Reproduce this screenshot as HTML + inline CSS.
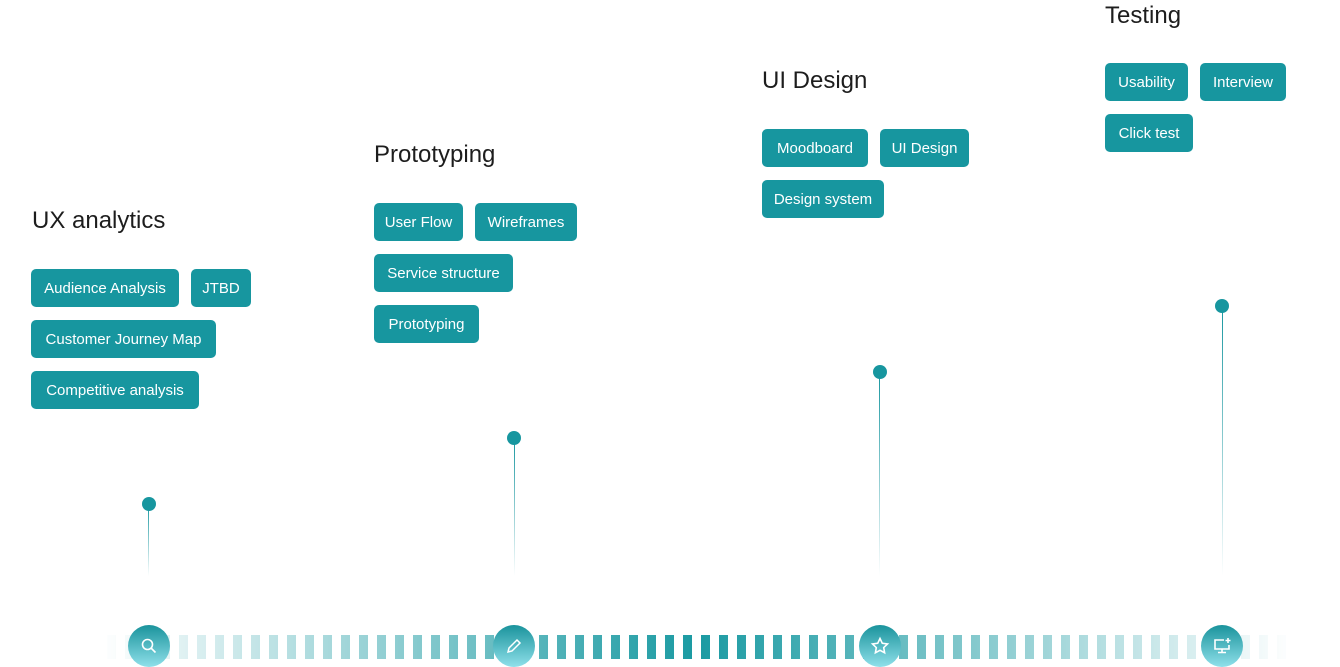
<!DOCTYPE html>
<html><head><meta charset="utf-8"><style>
body{margin:0;width:1340px;height:667px;background:#fff;position:relative;overflow:hidden;font-family:"Liberation Sans",sans-serif}
.t{position:absolute;font-size:24px;color:#1d1d1d;line-height:30px;white-space:nowrap}
.c{position:absolute;height:38px;line-height:40px;background:#17969f;color:#fff;border-radius:5px;font-size:15px;text-align:center;white-space:nowrap}
.d{position:absolute;width:14px;height:14px;border-radius:50%;background:#17969f}
.l{position:absolute;width:1px;background:linear-gradient(#17969f,rgba(23,150,159,0))}
.bars{position:absolute;left:107px;top:635px;width:1180px;height:24px;background:repeating-linear-gradient(90deg,#1a9aa2 0 9px,transparent 9px 18px);-webkit-mask-image:linear-gradient(90deg,rgba(0,0,0,0.01),rgba(0,0,0,1) 50%,rgba(0,0,0,0.01));mask-image:linear-gradient(90deg,rgba(0,0,0,0.01),rgba(0,0,0,1) 50%,rgba(0,0,0,0.01))}
.b{position:absolute;width:42px;height:42px;border-radius:50%;background:linear-gradient(#1a939c,#8fe0ea);top:625px;display:flex;align-items:center;justify-content:center}
</style></head><body>
<div class="t" style="left:32px;top:206px">UX analytics</div>
<div class="c" style="left:31px;top:269px;width:148px">Audience Analysis</div>
<div class="c" style="left:191px;top:269px;width:60px">JTBD</div>
<div class="c" style="left:31px;top:320px;width:185px">Customer Journey Map</div>
<div class="c" style="left:31px;top:371px;width:168px">Competitive analysis</div>

<div class="t" style="left:374px;top:140px">Prototyping</div>
<div class="c" style="left:374px;top:203px;width:89px">User Flow</div>
<div class="c" style="left:475px;top:203px;width:102px">Wireframes</div>
<div class="c" style="left:374px;top:254px;width:139px">Service structure</div>
<div class="c" style="left:374px;top:305px;width:105px">Prototyping</div>

<div class="t" style="left:762px;top:66px">UI Design</div>
<div class="c" style="left:762px;top:129px;width:106px">Moodboard</div>
<div class="c" style="left:880px;top:129px;width:89px">UI Design</div>
<div class="c" style="left:762px;top:180px;width:122px">Design system</div>

<div class="t" style="left:1105px;top:1px">Testing</div>
<div class="c" style="left:1105px;top:63px;width:83px">Usability</div>
<div class="c" style="left:1200px;top:63px;width:86px">Interview</div>
<div class="c" style="left:1105px;top:114px;width:88px">Click test</div>

<div class="d" style="left:142px;top:497px"></div><div class="l" style="left:148px;top:504px;height:72px"></div>
<div class="d" style="left:507px;top:431px"></div><div class="l" style="left:514px;top:438px;height:138px"></div>
<div class="d" style="left:873px;top:365px"></div><div class="l" style="left:879px;top:372px;height:204px"></div>
<div class="d" style="left:1215px;top:299px"></div><div class="l" style="left:1222px;top:306px;height:270px"></div>

<div class="bars"></div>
<div class="b" style="left:128px"><svg width="18" height="18" viewBox="0 0 18 18" fill="none" stroke="#fff" stroke-width="1.6"><circle cx="7.5" cy="7.5" r="5"/><path d="M11 11l4.5 4.5"/></svg></div>
<div class="b" style="left:493px"><svg width="18" height="18" viewBox="0 0 18 18" fill="none" stroke="#fff" stroke-width="1.5"><path d="M3 15l1-4 8-8 3 3-8 8z"/></svg></div>
<div class="b" style="left:859px"><svg width="20" height="20" viewBox="0 0 20 20" fill="none" stroke="#fff" stroke-width="1.6"><path d="M10 2.5l2.3 4.8 5.2.7-3.8 3.6.9 5.2L10 14.3l-4.6 2.5.9-5.2-3.8-3.6 5.2-.7z"/></svg></div>
<div class="b" style="left:1201px"><svg width="20" height="20" viewBox="0 0 20 20" fill="none" stroke="#fff" stroke-width="1.6"><path d="M12 4H3v9h14V9"/><path d="M10 13v3M6 16.5h8"/><path d="M16 2v5M13.5 4.5h5"/></svg></div>
</body></html>
